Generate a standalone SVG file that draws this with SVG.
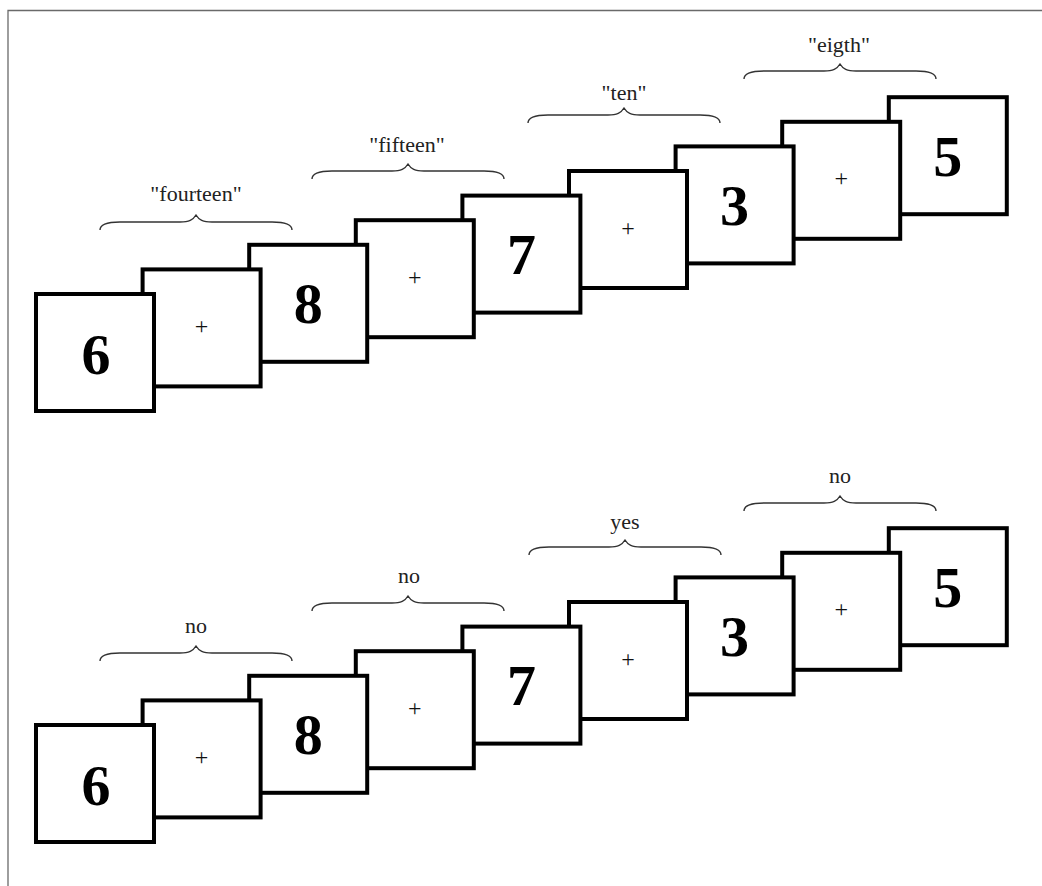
<svg xmlns="http://www.w3.org/2000/svg" xmlns:xlink="http://www.w3.org/1999/xlink" width="1042" height="886" viewBox="0 0 1042 886">
<style>
.box{fill:#fff;stroke:#000;stroke-width:4}
.dig{font-family:"Liberation Serif","Times New Roman",serif;font-weight:bold;font-size:58px;fill:#000;text-anchor:middle}
.plus{font-family:"Liberation Serif","Times New Roman",serif;font-size:24px;fill:#111;text-anchor:middle}
.lbl{font-family:"Liberation Serif","Times New Roman",serif;font-size:22px;fill:#222;text-anchor:middle}
.brace{fill:none;stroke:#333;stroke-width:1.4}
.frame{stroke:#6a6a6a;stroke-width:1.3;fill:none}
</style>
<defs>
<path id="br" d="M-96,8 C-96,3 -90,0 -76,0 L-16,0 C-7,0 -3,-2 0,-7 C3,-2 7,0 16,0 L76,0 C90,0 96,3 96,8"/>
</defs>
<rect width="1042" height="886" fill="#fff"/>
<path class="frame" d="M8,886 L8,10.5 L1042,10.5"/>

<g id="row1">
<g id="t8" transform="translate(888.8,97.2)"><rect class="box" width="118" height="117"/><text class="dig" x="59" y="78.5">5</text></g>
<g id="t7" transform="translate(782.2,121.8)"><rect class="box" width="118" height="117"/><text class="plus" x="59" y="64.5">+</text></g>
<g id="t6" transform="translate(675.6,146.4)"><rect class="box" width="118" height="117"/><text class="dig" x="59" y="78.5">3</text></g>
<g id="t5" transform="translate(569,171)"><rect class="box" width="118" height="117"/><text class="plus" x="59" y="64.5">+</text></g>
<g id="t4" transform="translate(462.4,195.6)"><rect class="box" width="118" height="117"/><text class="dig" x="59" y="78.5">7</text></g>
<g id="t3" transform="translate(355.8,220.2)"><rect class="box" width="118" height="117"/><text class="plus" x="59" y="64.5">+</text></g>
<g id="t2" transform="translate(249.2,244.8)"><rect class="box" width="118" height="117"/><text class="dig" x="59" y="78.5">8</text></g>
<g id="t1" transform="translate(142.6,269.4)"><rect class="box" width="118" height="117"/><text class="plus" x="59" y="64.5">+</text></g>
<g id="t0" transform="translate(36,294)"><rect class="box" width="118" height="117"/><text class="dig" x="60" y="80">6</text></g>
</g>

<g id="row2">
<g id="b8" transform="translate(888.8,528.2)"><rect class="box" width="118" height="117"/><text class="dig" x="59" y="78.5">5</text></g>
<g id="b7" transform="translate(782.2,552.8)"><rect class="box" width="118" height="117"/><text class="plus" x="59" y="64.5">+</text></g>
<g id="b6" transform="translate(675.6,577.4)"><rect class="box" width="118" height="117"/><text class="dig" x="59" y="78.5">3</text></g>
<g id="b5" transform="translate(569,602)"><rect class="box" width="118" height="117"/><text class="plus" x="59" y="64.5">+</text></g>
<g id="b4" transform="translate(462.4,626.6)"><rect class="box" width="118" height="117"/><text class="dig" x="59" y="78.5">7</text></g>
<g id="b3" transform="translate(355.8,651.2)"><rect class="box" width="118" height="117"/><text class="plus" x="59" y="64.5">+</text></g>
<g id="b2" transform="translate(249.2,675.8)"><rect class="box" width="118" height="117"/><text class="dig" x="59" y="78.5">8</text></g>
<g id="b1" transform="translate(142.6,700.4)"><rect class="box" width="118" height="117"/><text class="plus" x="59" y="64.5">+</text></g>
<g id="b0" transform="translate(36,725)"><rect class="box" width="118" height="117"/><text class="dig" x="60" y="80">6</text></g>
</g>

<g id="braces">
<use class="brace" href="#br" xlink:href="#br" x="196" y="222"/>
<use class="brace" href="#br" xlink:href="#br" x="408" y="171"/>
<use class="brace" href="#br" xlink:href="#br" x="624" y="115"/>
<use class="brace" href="#br" xlink:href="#br" x="840" y="71"/>
<use class="brace" href="#br" xlink:href="#br" x="196" y="653"/>
<use class="brace" href="#br" xlink:href="#br" x="408" y="603"/>
<use class="brace" href="#br" xlink:href="#br" x="625" y="547"/>
<use class="brace" href="#br" xlink:href="#br" x="840" y="503"/>
</g>

<g id="labels">
<text class="lbl" x="196" y="201">"fourteen"</text>
<text class="lbl" x="407" y="152">"fifteen"</text>
<text class="lbl" x="624" y="100">"ten"</text>
<text class="lbl" x="839" y="52">"eigth"</text>
<text class="lbl" x="196" y="633">no</text>
<text class="lbl" x="409" y="583">no</text>
<text class="lbl" x="625" y="529">yes</text>
<text class="lbl" x="840" y="483">no</text>
</g>
</svg>
